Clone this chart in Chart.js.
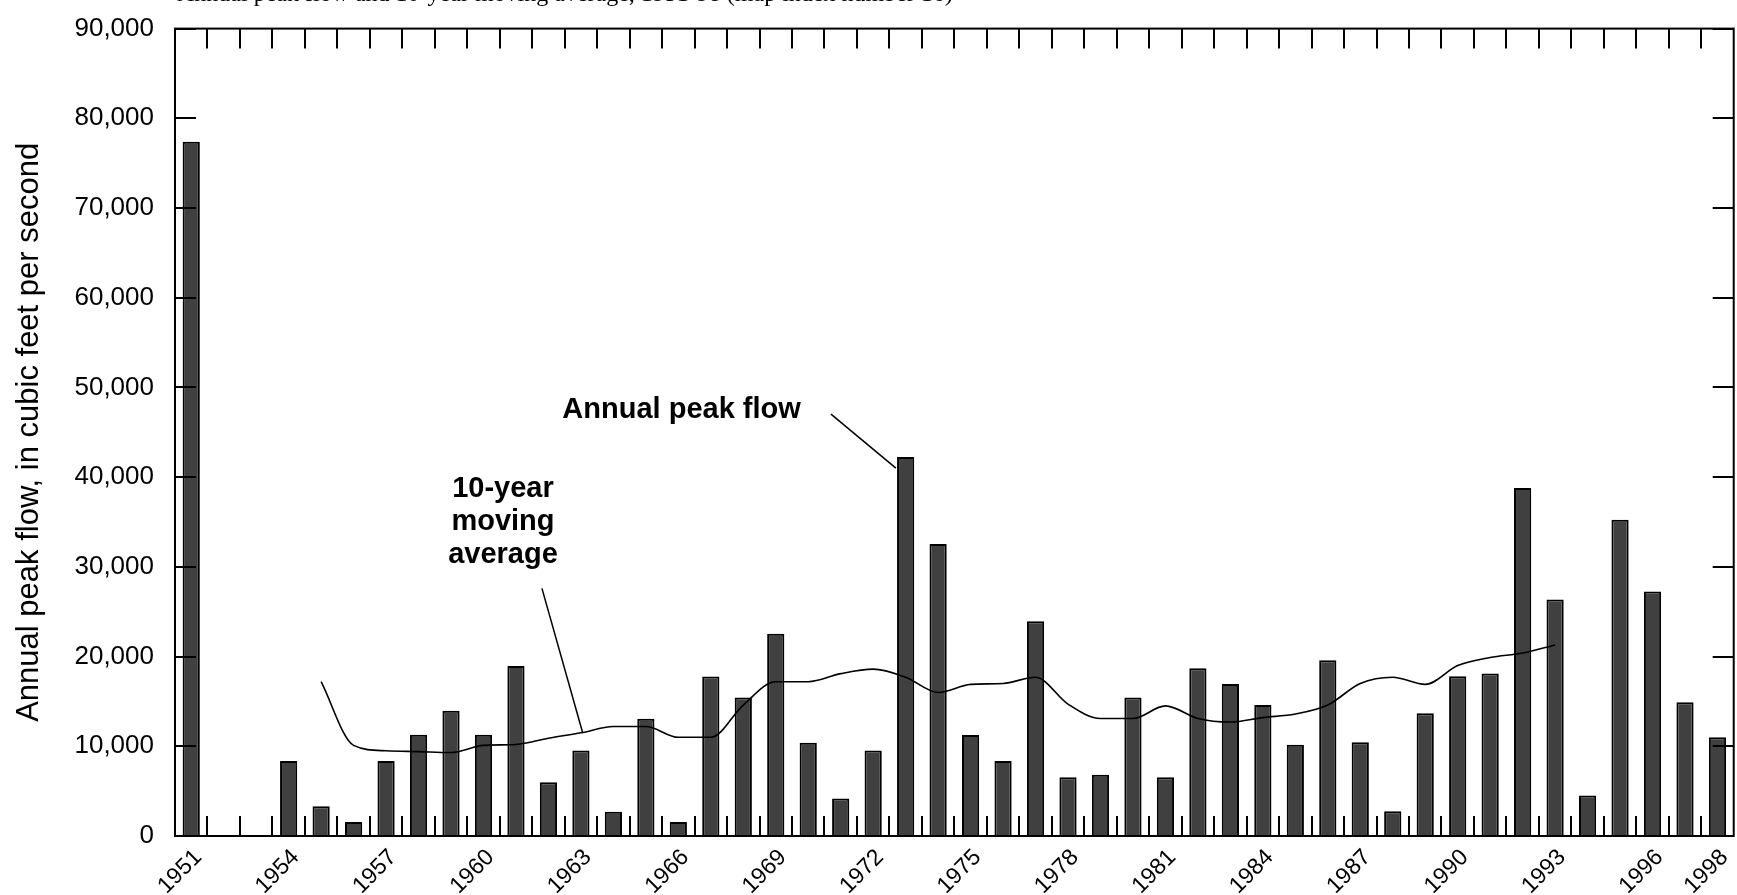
<!DOCTYPE html>
<html>
<head>
<meta charset="utf-8">
<script src="https://cdn.jsdelivr.net/npm/chart.js@4/dist/chart.umd.min.js"></script>
<style>
  html, body { margin: 0; padding: 0; background: #fff; overflow: hidden; }
  #wrap { position: relative; width: 1737px; height: 895px; }
  #cut-title {
    position: absolute; left: 177px; top: -19px;
    font: 24px "Liberation Serif", "Times New Roman", serif; line-height: 24px;
    color: #000; white-space: nowrap;
  }
</style>
</head>
<body>
<div id="wrap">
  <div id="cut-title">Annual peak flow and 10-year moving average, 1951-98 (map index number 16)</div>
  <canvas id="peak-flow"></canvas>
</div>
<script>
// annual peak flow, cubic feet per second
const years = [
  1951, 1952, 1953, 1954, 1955, 1956, 1957, 1958, 1959, 1960,
  1961, 1962, 1963, 1964, 1965, 1966, 1967, 1968, 1969, 1970,
  1971, 1972, 1973, 1974, 1975, 1976, 1977, 1978, 1979, 1980,
  1981, 1982, 1983, 1984, 1985, 1986, 1987, 1988, 1989, 1990,
  1991, 1992, 1993, 1994, 1995, 1996, 1997, 1998
];
const peakFlow = [
  77400, null, null, 8350, 3330, 1550, 8350, 11300, 13970, 11300,
  18960, 6000, 9530, 2700, 13080, 1550, 17770, 15440, 22540, 10390,
  4180, 9530, 42240, 32560, 11270, 8350, 23950, 6540, 6840, 15440,
  6560, 18700, 16930, 14600, 10160, 19590, 10460, 2770, 13670, 17810,
  18100, 38800, 26350, 4510, 35260, 27250, 14900, 11000
];
const movingAvg = [
  null, null, null, null, 17200, 10100, 9500, 9400, 9300, 10100,
  10200, 10900, 11500, 12200, 12200, 11000, 11000, 14600, 17200, 17200,
  18100, 18600, 17700, 16000, 16900, 17000, 17700, 14700, 13100, 13100,
  14500, 13100, 12700, 13200, 13600, 14600, 17000, 17700, 16900, 19000,
  19900, 20400, 21300, null, null, null, null, null
];
const yearLabels = [1951, 1954, 1957, 1960, 1963, 1966, 1969, 1972, 1975, 1978, 1981, 1984, 1987, 1990, 1993, 1996, 1998];
const flowTicks = [0, 10000, 20000, 30000, 40000, 50000, 60000, 70000, 80000, 90000];

// callouts, placed in chart units (year, cfs)
const peakNote = { lines: ['Annual peak flow'], at: [1966.1, 46550], from: [1970.7, 47030], to: [1972.7, 41010] };
const avgNote = { lines: ['10-year', 'moving', 'average'], at: [1960.6, 37800], from: [1961.8, 27600], to: [1963.05, 11560] };

const boxTicks = {
  id: 'boxTicks',
  afterDatasetsDraw(chart) {
    const {ctx, chartArea: a, scales: {x, y}} = chart;
    ctx.save();
    ctx.strokeStyle = '#000';
    ctx.lineWidth = 2;
    ctx.beginPath();
    for (let i = 1; i < years.length; i++) {
      const px = Math.round((x.getPixelForValue(i - 1) + x.getPixelForValue(i)) / 2);
      ctx.moveTo(px, a.top); ctx.lineTo(px, a.top + 20);
      ctx.moveTo(px, a.bottom); ctx.lineTo(px, a.bottom - 20);
    }
    flowTicks.forEach(v => {
      const py = Math.round(y.getPixelForValue(v));
      ctx.moveTo(a.left, py); ctx.lineTo(a.left + 21, py);
      ctx.moveTo(a.right, py); ctx.lineTo(a.right - 21, py);
    });
    ctx.stroke();
    ctx.strokeRect(a.left, a.top, a.right - a.left, a.bottom - a.top);
    ctx.restore();
  }
};

const callouts = {
  id: 'callouts',
  afterDraw(chart) {
    const {ctx, scales: {x, y}} = chart;
    const px = yr => x.getPixelForValue(yr - years[0]);
    ctx.save();
    ctx.fillStyle = '#000';
    ctx.strokeStyle = '#000';
    ctx.lineWidth = 1.5;
    ctx.font = 'bold 29px "Liberation Sans", Arial, sans-serif';
    ctx.textAlign = 'center';
    ctx.textBaseline = 'alphabetic';
    [peakNote, avgNote].forEach(n => {
      n.lines.forEach((t, i) => ctx.fillText(t, px(n.at[0]), y.getPixelForValue(n.at[1]) + i * 33));
      ctx.beginPath();
      ctx.moveTo(px(n.from[0]), y.getPixelForValue(n.from[1]));
      ctx.lineTo(px(n.to[0]), y.getPixelForValue(n.to[1]));
      ctx.stroke();
    });
    ctx.restore();
  }
};

new Chart(document.getElementById('peak-flow'), {
  type: 'bar',
  data: {
    labels: years,
    datasets: [
      {
        type: 'line',
        label: '10-year moving average',
        data: movingAvg,
        borderColor: '#000',
        borderWidth: 1.6,
        pointRadius: 0,
        fill: false,
        cubicInterpolationMode: 'monotone',
        order: 0
      },
      {
        label: 'Annual peak flow',
        data: peakFlow,
        backgroundColor: '#404040',
        borderColor: '#000',
        borderWidth: 2,
        barPercentage: 0.53,
        categoryPercentage: 1.0,
        order: 1
      }
    ]
  },
  options: {
    responsive: true,
    maintainAspectRatio: false,
    animation: false,
    layout: { padding: { top: 25, right: 1, left: 0, bottom: 0 } },
    plugins: { legend: { display: false }, tooltip: { enabled: false } },
    scales: {
      x: {
        grid: { display: false },
        border: { display: false },
        ticks: {
          autoSkip: false,
          minRotation: 45,
          maxRotation: 45,
          padding: 0,
          labelOffset: 7,
          color: '#000',
          font: { family: '"Liberation Sans Narrow", "Liberation Sans", Arial, sans-serif', size: 23 },
          callback: (v, i) => yearLabels.includes(years[i]) ? String(years[i]) : ''
        },
        afterFit: s => { s.height = 59; }
      },
      y: {
        min: 0,
        max: 90000,
        grid: { display: false },
        border: { display: false },
        afterBuildTicks: s => { s.ticks = flowTicks.map(v => ({ value: v })); },
        ticks: {
          padding: 13,
          color: '#000',
          font: { family: '"Liberation Sans", Arial, sans-serif', size: 26 },
          callback: v => v.toLocaleString('en-US')
        },
        title: {
          display: true,
          text: 'Annual peak flow, in cubic feet per second',
          color: '#000',
          padding: { top: 11, bottom: 0 },
          font: { family: '"Liberation Sans", Arial, sans-serif', size: 31 }
        },
        afterFit: s => { s.width = 175; }
      }
    }
  },
  plugins: [boxTicks, callouts]
});
</script>
</body>
</html>
